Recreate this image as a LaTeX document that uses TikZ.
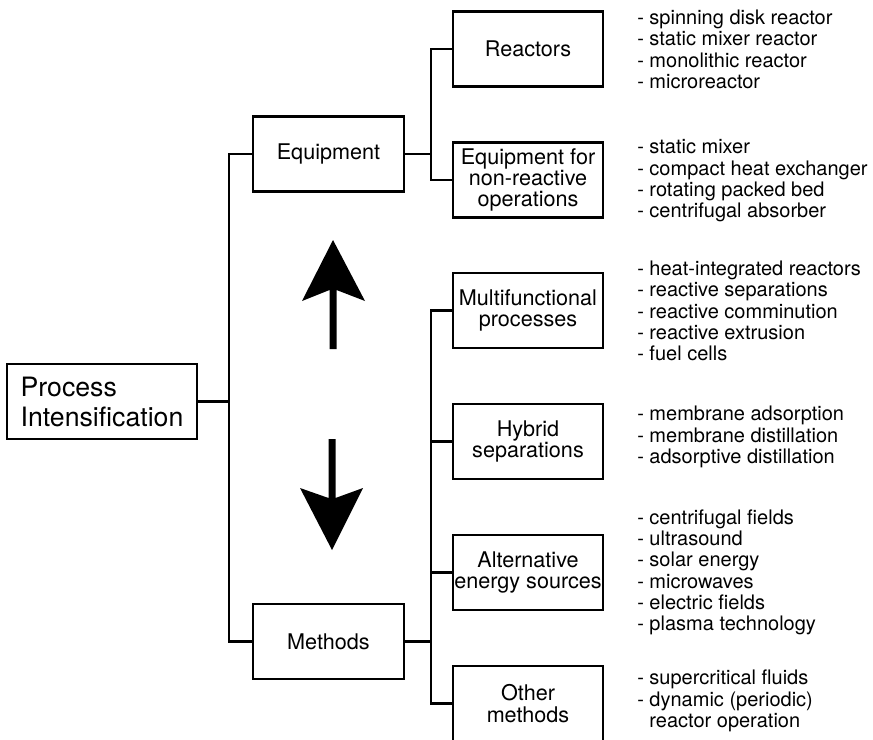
\documentclass[tikz,border=0pt]{standalone}
\usepackage{fontspec}
\setmainfont{TeX Gyre Heros}
\begin{document}
\begin{tikzpicture}[x=0.75pt,y=-0.75pt,
  box/.style={draw,line width=1.8pt,inner sep=0pt,minimum width=112.5pt,minimum height=56pt,align=center,
    font=\fontsize{16.2}{16}\selectfont},
  list/.style={anchor=west,inner sep=0pt,align=left,font=\fontsize{15}{16}\selectfont},
  link/.style={line width=1.7pt}]
\useasboundingbox (0,0) rectangle (873,739);
\fill[white] (0,0) rectangle (873,739);

% root and the two main branches
\node[box,minimum width=142.5pt,align=left,font=\fontsize{20}{22.5}\selectfont] (pi) at (102,401.5)
  {Process\\Intensification};
\node[box,minimum width=113pt] (equip) at (328.5,154) {Equipment};
\node[box,minimum width=113pt] (meth) at (328.5,641.5) {Methods};

% equipment sub-branches
\node[box] (reac) at (528,49) {Reactors};
\node[box] (nonr) at (528,180) {Equipment for\\non-reactive\\operations};

% method sub-branches
\node[box] (multi) at (528,310.5) {Multifunctional\\processes};
\node[box] (hyb) at (528,441.5) {Hybrid\\separations};
\node[box] (alt) at (528,572.5) {Alternative\\energy sources};
\node[box] (oth) at (528,703.5) {Other\\methods};

% tree connectors
\coordinate (trunk) at (229,0);
\coordinate (fork) at (431,0);
\draw[link] (pi.east) -- (pi.east -| trunk);
\draw[link] (equip.west) -- (equip.west -| trunk) -- (meth.west -| trunk) -- (meth.west);
\draw[link] (equip.east) -- (equip.east -| fork);
\draw[link] (reac.west) -- (reac.west -| fork) -- (nonr.west -| fork) -- (nonr.west);
\draw[link] (meth.east) -- (meth.east -| fork);
\draw[link] (multi.west) -- (multi.west -| fork) -- (oth.west -| fork) -- (oth.west);
\draw[link] (hyb.west) -- (hyb.west -| fork);
\draw[link] (alt.west) -- (alt.west -| fork);

% up and down arrows
\fill (329.5,349) -- (329.5,290) -- (302,301) -- (333,240) -- (365,301) -- (336.5,290) -- (336.5,349) -- cycle;
\fill (328.5,439) -- (328.5,498) -- (300,488) -- (332,550) -- (363,488) -- (335.5,498) -- (335.5,439) -- cycle;

% item lists
\node[list] (l1) at (637,49.5) {- spinning disk reactor\\- static mixer reactor\\- monolithic reactor\\- microreactor};
\node[list] (l2) at (637,181) {- static mixer\\- compact heat exchanger\\- rotating packed bed\\- centrifugal absorber};
\node[list] (l3) at (637,311) {- heat-integrated reactors\\- reactive separations\\- reactive comminution\\- reactive extrusion\\- fuel cells};
\node[list] (l4) at (637,437) {- membrane adsorption\\- membrane distillation\\- adsorptive distillation};
\node[list] (l5) at (637,572.5) {- centrifugal fields\\- ultrasound\\- solar energy\\- microwaves\\- electric fields\\- plasma technology};
\node[list] (l6) at (637,701) {- supercritical fluids\\- dynamic (periodic)\\\phantom{- }reactor operation};
\end{tikzpicture}
\end{document}
